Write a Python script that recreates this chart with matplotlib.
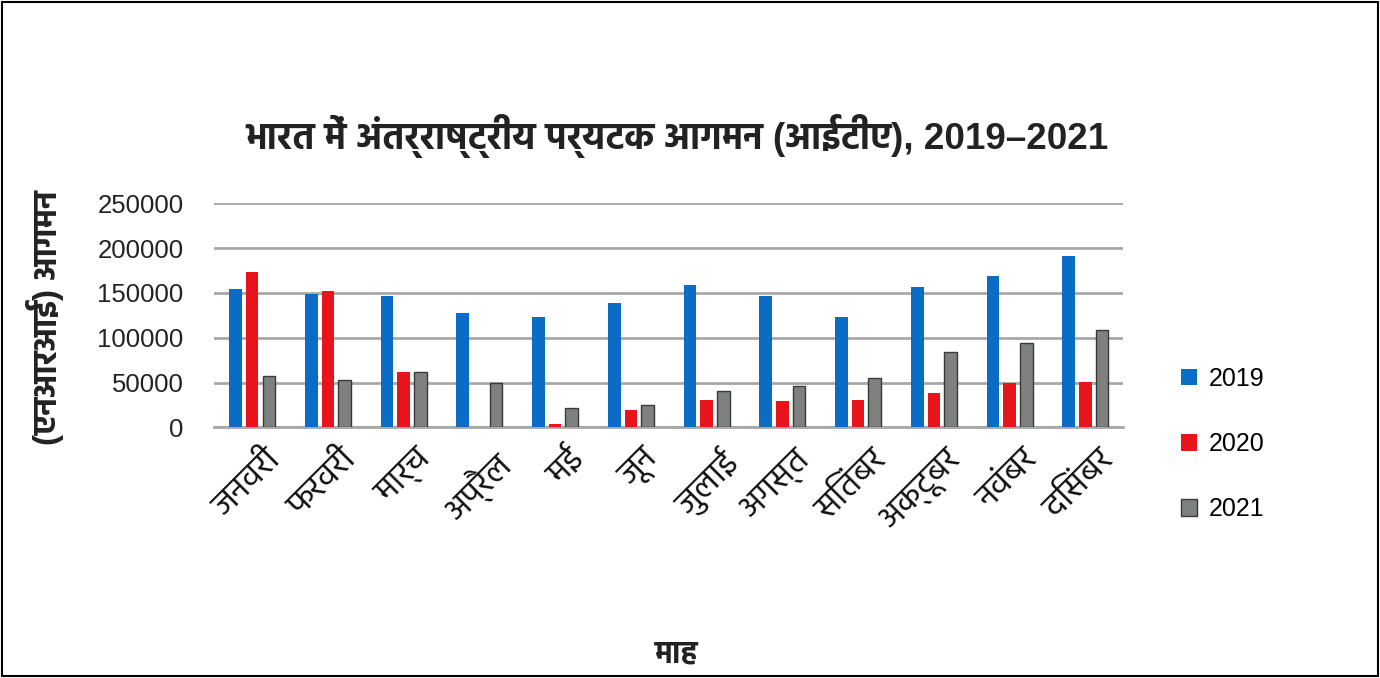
import numpy as np
import matplotlib
matplotlib.use("Agg")
import matplotlib.pyplot as plt
from matplotlib import font_manager
from matplotlib.patches import Rectangle

# ---------------- data ----------------
months = ["जनवरी", "फरवरी", "मार्च", "अप्रैल", "मई", "जून",
          "जुलाई", "अगस्त", "सितंबर", "अक्टूबर", "नवंबर", "दिसंबर"]
series_names = ["2019", "2020", "2021"]
ita_2019 = [154000, 149000, 146000, 128000, 123000, 138500,
            158500, 146000, 123000, 156500, 169000, 191000]
ita_2020 = [173500, 152000, 61500, 0, 3700, 19300,
            31000, 29600, 31000, 38500, 49600, 51000]
ita_2021 = [57800, 53300, 61500, 48900, 21500, 25200,
            40700, 45900, 54800, 84400, 94000, 108900]
yticks = [0, 50000, 100000, 150000, 200000, 250000]

title = "भारत में अंतर्राष्ट्रीय पर्यटक आगमन (आईटीए), 2019–2021"
ylabel = "(एनआरआई) आगमन"
xlabel = "माह"

# ---------------- fonts ----------------
weights = {}
for f in font_manager.fontManager.ttflist:
    w = f.weight if isinstance(f.weight, int) else 400
    weights.setdefault(f.name, set()).add(w)
preferred = ["Noto Sans Devanagari", "Hind", "Mukta", "Poppins", "Biryani", "Amiko",
             "Arya", "Annapurna SIL", "FreeSans"]
deva = next((n for n in preferred if n in weights and max(weights[n]) >= 600), None)
if deva is None:
    deva = next((n for n in preferred if n in weights), "DejaVu Sans")
fams = ["Liberation Sans", deva, "DejaVu Sans"]
plt.rcParams["font.family"] = fams

# ---------------- figure ----------------
W, H = 1380, 678
fig = plt.figure(figsize=(W / 100, H / 100), dpi=100)
fig.patch.set_facecolor("white")
fig.add_artist(Rectangle((2 / W, 2 / H), 1 - 4 / W, 1 - 4 / H, transform=fig.transFigure,
                         fill=False, edgecolor="black", linewidth=1.5))

ax = fig.add_axes([214.3 / W, 1 - 427.3 / H, (1123.2 - 214.3) / W, (427.3 - 203.3) / H])

x = np.arange(len(months))
bw = 0.167
step = 0.22
colors = ["#0A6CC4", "#E8141C", "#7F8080"]
edges = ["#0A6CC4", "#E8141C", "#3A3A3A"]
for i, (vals, c, ec, name) in enumerate(zip([ita_2019, ita_2020, ita_2021], colors, edges, series_names)):
    ax.bar(x + (i - 1) * step, vals, width=bw, color=c, edgecolor=ec,
           linewidth=1.0 if i == 2 else 0, label=name, zorder=3)

ax.set_xlim(-0.5, len(months) - 0.5)
ax.set_ylim(0, 250000)
ax.set_yticks(yticks)
ax.set_yticklabels([str(v) for v in yticks], fontsize=18.5, color="#222222")
ax.yaxis.grid(True, color="#A8A8A8", linewidth=2.0, zorder=0)
ax.set_axisbelow(True)
for s in ["top", "right", "left"]:
    ax.spines[s].set_visible(False)
ax.spines["bottom"].set_color("#A8A8A8")
ax.spines["bottom"].set_linewidth(2.0)
ax.tick_params(axis="y", length=0, pad=22)
ax.tick_params(axis="x", length=0, pad=12)

# month labels: invisible ticks shifted slightly right of the group centres
ax.set_xticks(x + 0.17)
ax.set_xticklabels(months, rotation=45, ha="right", va="top", rotation_mode="anchor",
                   fontsize=24.5, color="#111111")

fig.text(677 / W, 1 - 136 / H, title, ha="center", va="center", fontsize=26.5,
         fontweight="bold", color="#222222")
fig.text(45 / W, 1 - 318 / H, ylabel, ha="center", va="center", rotation=90,
         fontsize=24, fontweight="bold", color="#222222")
fig.text(677 / W, 1 - 655 / H, xlabel, ha="center", va="center", fontsize=22,
         fontweight="bold", color="#222222")

handles, labels = ax.get_legend_handles_labels()
leg = fig.legend(handles, labels, loc="center left", bbox_to_anchor=(1181 / W, 1 - 444 / H),
                 frameon=False, handlelength=0.65, handleheight=0.65,
                 handletextpad=0.45, labelspacing=1.65, borderpad=0, borderaxespad=0,
                 prop={"family": ["Liberation Sans", "DejaVu Sans"], "size": 18})

fig.savefig("out.png", dpi=100, facecolor="white")
